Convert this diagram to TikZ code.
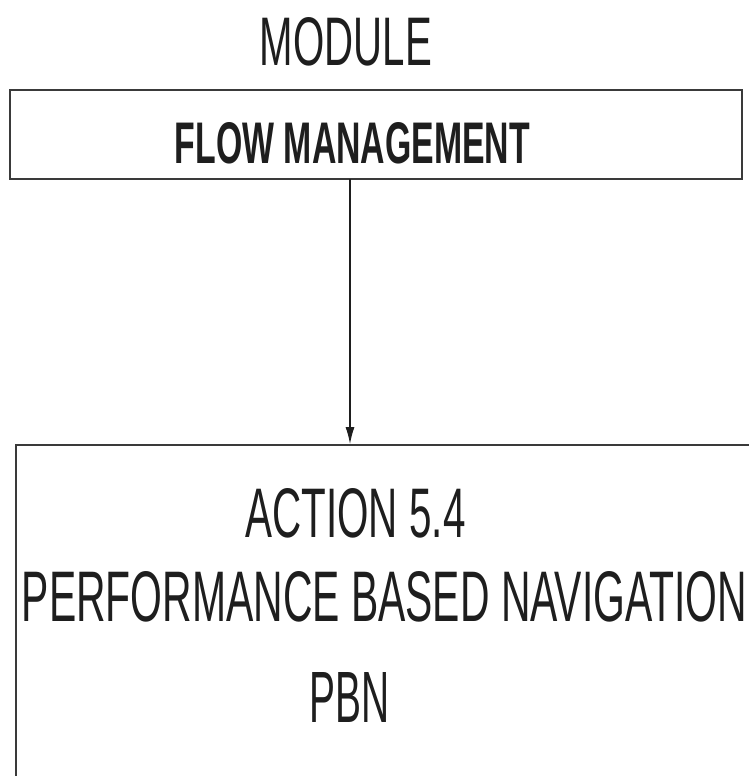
\documentclass[tikz,border=0pt]{standalone}
\usepackage{fontspec}
\setmainfont{Liberation Sans}
\usetikzlibrary{arrows.meta}
\definecolor{ink}{HTML}{1E1E1E}
\definecolor{frame}{HTML}{3A3A3A}
\tikzset{
  lbl/.style={anchor=base, inner sep=0pt, outer sep=0pt, text=ink},
  boxframe/.style={draw=frame, line width=2pt, rectangle, inner sep=0pt},
  conn/.style={draw=ink, line width=1.1pt, -{Latex[length=17pt,width=9pt]}}
}
\begin{document}
\begin{tikzpicture}[x=1pt,y=-1pt]
\useasboundingbox (0,0) rectangle (749,776);
\clip (0,0) rectangle (749,776);
% title
\node[lbl] (title) at (346,65) {\resizebox{172pt}{48pt}{MODULE}};
% top box
\node[boxframe, minimum width=732pt, minimum height=89pt] (fm) at (376,134.5) {};
\node[lbl] (fmtext) at (352.5,163) {\resizebox{355pt}{41pt}{\bfseries FLOW MANAGEMENT}};
% bottom box (extends past the picture edges)
\node[boxframe, minimum width=744pt, minimum height=345pt] (pbn) at (388,617.5) {};
\node[lbl] (act) at (355.5,537) {\resizebox{220pt}{49pt}{ACTION 5.4}};
\node[lbl] (perf) at (384.5,621) {\resizebox{725pt}{50pt}{PERFORMANCE BASED NAVIGATION}};
\node[lbl] (abbr) at (350,722) {\resizebox{80pt}{50pt}{PBN}};
% connector
\coordinate (src) at (350,179);
\draw[conn] (src) -- (src |- pbn.north);
\end{tikzpicture}
\end{document}
